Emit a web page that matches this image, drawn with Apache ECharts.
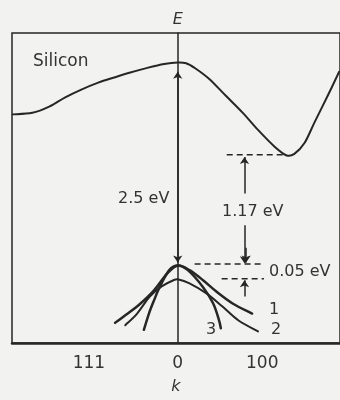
<!DOCTYPE html>
<html><head><meta charset="utf-8">
<script src="https://cdn.jsdelivr.net/npm/echarts@6/dist/echarts.min.js"></script>
<style>html,body{margin:0;padding:0;background:#f2f2f0}#c{width:340px;height:400px}</style>
</head><body><div id="c"></div>
<script>
// k in units of the zone-edge distance (0 = centre, +1 toward 100, -1 toward 111); E in schematic eV
const condK = [-1.95,-1.72,-1.52,-1.33,-1.14,-0.94,-0.74,-0.56,-0.36,-0.16,0,0.10,0.20,0.37,0.57,0.77,0.95,1.15,1.29,1.38,1.50,1.62,1.77,1.91];
const condE = [1.95,1.97,2.05,2.17,2.27,2.36,2.43,2.49,2.55,2.60,2.62,2.61,2.55,2.41,2.19,1.97,1.75,1.53,1.42,1.44,1.58,1.85,2.18,2.50];
const band1K = [-0.74,-0.59,-0.44,-0.28,-0.13,0,0.14,0.30,0.45,0.65,0.88];
const band1E = [-0.74,-0.62,-0.49,-0.32,-0.11,0,-0.06,-0.19,-0.33,-0.49,-0.62];
const band3K = [-0.40,-0.34,-0.28,-0.21,-0.10,0,0.12,0.30,0.42,0.49,0.51];
const band3E = [-0.83,-0.62,-0.45,-0.27,-0.06,0,-0.06,-0.28,-0.49,-0.71,-0.81];
const band2K = [-0.62,-0.48,-0.33,-0.19,-0.05,0.01,0.14,0.34,0.53,0.72,0.95];
const band2E = [-0.77,-0.62,-0.40,-0.27,-0.19,-0.18,-0.23,-0.36,-0.53,-0.71,-0.85];
const tickValues = [-1.05, 0, 1];
const tickLabels = ['111', '0', '100'];
const directGap = [0, 2.5];       // 2.5 eV arrow: from valence top to conduction at k=0
const indirectMin = 1.43;         // conduction minimum level (1.17 eV label)
const splitOff = -0.17;           // split-off band top (0.05 eV label)

const zip = (a, b) => a.map((v, i) => [v, b[i]]);
const ink = '#262626';
const font = 'DejaVu Sans';

const chart = echarts.init(document.getElementById('c'), null, {renderer: 'canvas'});
const dashed = (pts) => ({type: 'line', data: pts, symbol: 'none', silent: true,
  lineStyle: {color: ink, width: 1.5, type: [6, 4]}});
const arrow = (coords, sym) => ({coords, symbol: sym});

// smooth curve through the read points (Catmull-Rom drawn as cubic Beziers in pixel space)
const curve = (k, e, w) => {
  const data = zip(k, e);
  return {
    type: 'custom', silent: true, data,
    renderItem: (params, api) => {
      if (params.dataIndex !== 0) return null;
      const p = data.map(d => api.coord(d));
      let d = `M${p[0][0]},${p[0][1]}`;
      for (let i = 0; i < p.length - 1; i++) {
        const p0 = p[Math.max(i - 1, 0)], p1 = p[i], p2 = p[i + 1], p3 = p[Math.min(i + 2, p.length - 1)];
        const c1 = [p1[0] + (p2[0] - p0[0]) / 6, p1[1] + (p2[1] - p0[1]) / 6];
        const c2 = [p2[0] - (p3[0] - p1[0]) / 6, p2[1] - (p3[1] - p1[1]) / 6];
        d += ` C${c1[0]},${c1[1]} ${c2[0]},${c2[1]} ${p2[0]},${p2[1]}`;
      }
      return {type: 'path', shape: {pathData: d}, style: {stroke: ink, lineWidth: w, fill: null, lineJoin: 'round', lineCap: 'round'}};
    }
  };
};

chart.setOption({
  backgroundColor: '#f2f2f0',
  animation: false,
  grid: {left: 12, top: 33, right: -6, bottom: 55, show: true, borderColor: ink, borderWidth: 1.5},
  xAxis: {
    type: 'value', min: -1.96, max: 1.92,
    axisLine: {onZero: false, lineStyle: {color: ink, width: 2.5}},
    axisTick: {show: false}, splitLine: {show: false},
    axisLabel: {customValues: tickValues, formatter: v => tickLabels[tickValues.indexOf(v)],
      color: '#333', fontSize: 17, fontFamily: font, margin: 12},
    name: 'k', nameLocation: 'middle', nameGap: 36,
    nameTextStyle: {fontStyle: 'italic', fontSize: 16, color: '#333', fontFamily: font}
  },
  yAxis: {
    type: 'value', min: -1, max: 3,
    axisLine: {onZero: true, lineStyle: {color: ink, width: 1.5}},
    axisTick: {show: false}, axisLabel: {show: false}, splitLine: {show: false},
    name: 'E', nameLocation: 'end', nameGap: 5,
    nameTextStyle: {fontStyle: 'italic', fontSize: 16, color: '#333', fontFamily: font}
  },
  series: [
    curve(condK, condE, 2),
    curve(band1K, band1E, 2.5),
    curve(band3K, band3E, 2.5),
    curve(band2K, band2E, 2),
    dashed([[0.58, indirectMin], [1.28, indirectMin]]),
    dashed([[0.2, 0.02], [1.02, 0.02]]),
    dashed([[0.52, splitOff], [1.02, splitOff]]),
    {type: 'lines', coordinateSystem: 'cartesian2d', silent: true, symbolSize: 7,
      lineStyle: {color: ink, width: 1.5, opacity: 1},
      data: [
        arrow([[0, directGap[0] + 0.04], [0, directGap[1]]], ['arrow', 'arrow']),
        arrow([[0.79, 0.93], [0.79, indirectMin - 0.03]], ['none', 'arrow']),
        arrow([[0.79, 0.52], [0.79, 0.03]], ['none', 'arrow']),
        arrow([[0.81, 0.23], [0.81, 0.04]], ['none', 'arrow']),
        arrow([[0.79, -0.40], [0.79, splitOff - 0.02]], ['none', 'arrow'])
      ]}
  ],
  graphic: [
    {type: 'text', left: 33, top: 53, style: {text: 'Silicon', fontSize: 17, fontFamily: font, fill: '#333'}},
    {type: 'text', left: 118, top: 191, style: {text: '2.5 eV', fontSize: 16, fontFamily: font, fill: '#333'}},
    {type: 'text', left: 222, top: 204, style: {text: '1.17 eV', fontSize: 16, fontFamily: font, fill: '#333'}},
    {type: 'text', left: 269, top: 264, style: {text: '0.05 eV', fontSize: 16, fontFamily: font, fill: '#333'}},
    {type: 'text', left: 269, top: 302, style: {text: '1', fontSize: 16, fontFamily: font, fill: '#333'}},
    {type: 'text', left: 271, top: 322, style: {text: '2', fontSize: 16, fontFamily: font, fill: '#333'}},
    {type: 'text', left: 206, top: 322, style: {text: '3', fontSize: 16, fontFamily: font, fill: '#333'}}
  ]
});
</script></body></html>
